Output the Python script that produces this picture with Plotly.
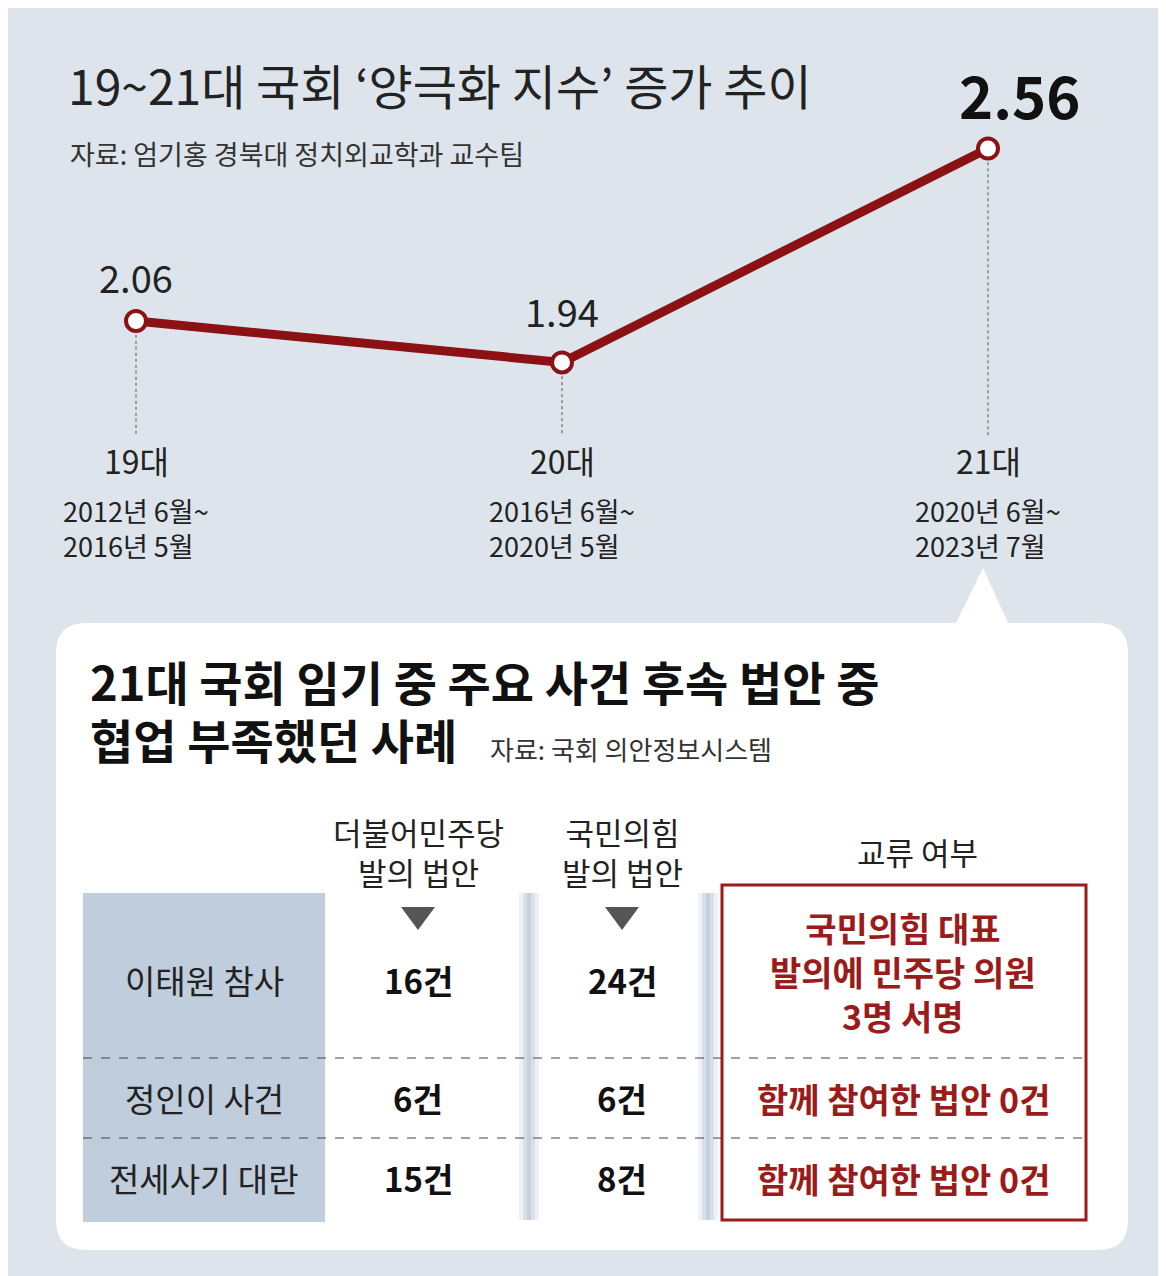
import plotly.graph_objects as go

W, H = 1166, 1276
FONT = "Noto Sans CJK KR"
RED = "#8c1114"
BG = "#dde4eb"

# chart data
terms = ["19대", "20대", "21대"]
periods = ["2012년 6월~<br>2016년 5월", "2016년 6월~<br>2020년 5월", "2020년 6월~<br>2023년 7월"]
index_vals = [2.06, 1.94, 2.56]

# table data
events = ["이태원 참사", "정인이 사건", "전세사기 대란"]
dem_bills = ["16건", "6건", "15건"]
ppp_bills = ["24건", "6건", "8건"]
exchange = ["국민의힘 대표<br>발의에 민주당 의원<br>3명 서명", "함께 참여한 법안 0건", "함께 참여한 법안 0건"]
col_heads = ["더불어민주당<br>발의 법안", "국민의힘<br>발의 법안", "교류 여부"]


def px(x):
    return x / W


def py(y):
    return 1 - y / H


fig = go.Figure()

# x index 0..2 -> pixels 128..980 ; y pixels via 345 px/unit
xs = list(range(len(terms)))
fig.add_trace(go.Scatter(
    x=xs, y=index_vals, mode="lines+markers",
    line=dict(color=RED, width=9),
    marker=dict(size=20, color="white", line=dict(color=RED, width=4)),
    hoverinfo="skip", showlegend=False,
))

shapes = []
ann = []


def txt(x, y, text, size, color="#222", xanchor="center", align="center"):
    ann.append(dict(x=px(x), y=py(y), xref="paper", yref="paper", xanchor=xanchor, yanchor="middle",
                    text=text, showarrow=False, align=align,
                    font=dict(size=size, color=color, family=FONT)))


# dotted drop lines
for i, v in enumerate(index_vals):
    shapes.append(dict(type="line", xref="x", yref="y", x0=i, x1=i, y0=v - 0.04,
                       y1=2.06 - (428 - 313) / 345, line=dict(color="#555", width=1, dash="dot")))
    ann.append(dict(x=i, y=2.06 - (452 - 313) / 345, xref="x", yref="y", text=terms[i],
                    showarrow=False, font=dict(size=32, color="#222", family=FONT)))
    ann.append(dict(x=i, y=2.06 - (520 - 313) / 345, xref="x", yref="y", text=periods[i],
                    showarrow=False, align="left", font=dict(size=27, color="#222", family=FONT)))

# value labels
ann.append(dict(x=0, y=index_vals[0], xref="x", yref="y", yshift=45, text=f"{index_vals[0]:.2f}",
                showarrow=False, font=dict(size=38, color="#222", family=FONT)))
ann.append(dict(x=1, y=index_vals[1], xref="x", yref="y", yshift=52, text=f"{index_vals[1]:.2f}",
                showarrow=False, font=dict(size=38, color="#222", family=FONT)))
ann.append(dict(x=2, y=index_vals[2], xref="x", yref="y", yshift=55, xshift=32, text=f"<b>{index_vals[2]:.2f}</b>",
                showarrow=False, font=dict(size=58, color="#111", family=FONT)))

# titles
txt(58, 76, "19~21대 국회 ‘양극화 지수’ 증가 추이", 48, xanchor="left")
txt(60, 145, "자료: 엄기홍 경북대 정치외교학과 교수팀", 27, color="#333", xanchor="left")

# callout box
L, R, T, B, r = 48, 1120, 615, 1242, 30
path = (f"M {L+r},{T} L 948,{T} L 975,560 L 1000,{T} L {R-r},{T} Q {R},{T} {R},{T+r} "
        f"L {R},{B-r} Q {R},{B} {R-r},{B} L {L+r},{B} Q {L},{B} {L},{B-r} L {L},{T+r} Q {L},{T} {L+r},{T} Z")
shapes.append(dict(type="path", xref="x2", yref="y2", path=path, fillcolor="white", line=dict(width=0), layer="below"))

txt(80, 672, "<b>21대 국회 임기 중 주요 사건 후속 법안 중</b>", 47, color="#111", xanchor="left")
txt(80, 730, "<b>협업 부족했던 사례</b>", 47, color="#111", xanchor="left")
txt(480, 740, "자료: 국회 의안정보시스템", 26, color="#333", xanchor="left")

# table decorations
shapes.append(dict(type="rect", xref="x2", yref="y2", x0=75, x1=317, y0=885, y1=1214,
                   fillcolor="#bfcddd", line=dict(width=0), layer="below"))
for cx in (521, 700):
    for k, c in enumerate(["#eef2f6", "#d7e0e9", "#c5d2de", "#d7e0e9", "#eef2f6"]):
        shapes.append(dict(type="rect", xref="x2", yref="y2", x0=cx - 10 + 4 * k, x1=cx - 6 + 4 * k,
                           y0=885, y1=1212, fillcolor=c, line=dict(width=0), layer="below"))
for yy in (1050, 1130):
    shapes.append(dict(type="line", xref="x2", yref="y2", x0=75, x1=1078, y0=yy, y1=yy,
                       line=dict(color="#444", width=1.2, dash="dash")))
shapes.append(dict(type="rect", xref="x2", yref="y2", x0=714, x1=1078, y0=877, y1=1212,
                   line=dict(color="#9b1b1b", width=3)))
for cx in (410, 614):
    shapes.append(dict(type="path", xref="x2", yref="y2",
                       path=f"M {cx-17},899 L {cx+17},899 L {cx},922 Z", fillcolor="#555", line=dict(width=0)))

col_x = [410, 614, 910]
for cx, t in zip(col_x, col_heads):
    txt(cx, 843, t, 31)

row_y = [972, 1090, 1170]
for i, ry in enumerate(row_y):
    txt(196, ry, events[i], 33)
    txt(410, ry, f"<b>{dem_bills[i]}</b>", 33, color="#111")
    txt(614, ry, f"<b>{ppp_bills[i]}</b>", 33, color="#111")
    txt(895, ry - 8 if i == 0 else ry, f"<b>{exchange[i]}</b>", 34, color="#9b1b1b")

fig.update_layout(
    width=W, height=H, margin=dict(l=0, r=0, t=0, b=0),
    paper_bgcolor=BG, plot_bgcolor="rgba(0,0,0,0)",
    xaxis=dict(range=[-128 / 426, (W - 128) / 426], visible=False, domain=[0, 1]),
    yaxis=dict(range=[2.06 - (H - 313) / 345, 2.06 + 313 / 345], visible=False, domain=[0, 1]),
    xaxis2=dict(range=[0, W], visible=False, overlaying="x", domain=[0, 1]),
    yaxis2=dict(range=[H, 0], visible=False, overlaying="y", domain=[0, 1]),
    shapes=shapes, annotations=ann,
)
fig.write_html("out.html")
